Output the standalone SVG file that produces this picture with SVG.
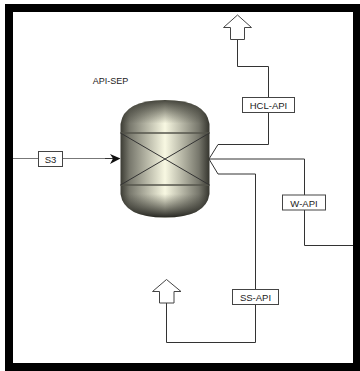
<svg xmlns="http://www.w3.org/2000/svg" width="360" height="371" viewBox="0 0 360 371">
<style>
.t{font-family:"Liberation Sans",Arial,sans-serif;font-size:9.5px;fill:#222;text-anchor:middle}
.b{fill:#fff;stroke:#444;stroke-width:1}
.c{fill:none;stroke:#333;stroke-width:1}
.p{fill:#fff;stroke:#444;stroke-width:1}
</style>
<defs>
<linearGradient id="h" x1="0" x2="1" y1="0" y2="0">
<stop offset="0" stop-color="#3c3c34"/><stop offset=".1" stop-color="#77776c"/><stop offset=".5" stop-color="#f8f8e2"/><stop offset=".88" stop-color="#77776c"/><stop offset="1" stop-color="#35352e"/>
</linearGradient>
<linearGradient id="v" x1="0" x2="0" y1="0" y2="1">
<stop offset="0" stop-color="#33332c" stop-opacity=".9"/><stop offset=".2" stop-color="#33332c" stop-opacity="0"/><stop offset=".8" stop-color="#33332c" stop-opacity="0"/><stop offset="1" stop-color="#1c1c18" stop-opacity=".95"/>
</linearGradient>
</defs>
<g id="frame"><path fill="#000" fill-rule="evenodd" d="M5 4H360V371H5ZM13 12V363H353V12Z"/></g>
<g id="connectors">
<path d="M13 158.500H113" fill="none" stroke="#777" stroke-width="1"/>
<path d="M105 158.500H114" class="c"/>
<path d="M110 154L120.500 158.500L110 164L113 158.500Z" fill="#111"/>
<path class="c" d="M209 159L218 144.500H268.500V66.500H237.500V39"/>
<path class="c" d="M209 159H304.500V245.500H353"/>
<path class="c" d="M209 159L218 174H255.500V342.500H166.500V303"/>
</g>
<g id="API-SEP">
<text x="110.500" y="84" class="t" style="font-size:9px">API-SEP</text>
<path id="shell" d="M120.500 124Q124 100 165 100Q206 100 209.500 124V194Q206 217.500 165 217.500Q124 217.500 120.500 194Z" fill="url(#h)"/>
<path d="M120.500 124Q124 100 165 100Q206 100 209.500 124V194Q206 217.500 165 217.500Q124 217.500 120.500 194Z" fill="url(#v)"/>
<path d="M120.500 133H209.500M120.500 185H209.500" stroke="#55554c" stroke-width="1.500" fill="none"/>
<path d="M120.500 133L209.500 185M120.500 185L209.500 133" stroke="#333" stroke-width="1" fill="none"/>
</g>
<g id="S3"><rect class="b" x="38.500" y="151.500" width="24" height="15"/><text class="t" x="50.500" y="162.500">S3</text></g>
<g id="HCL-API"><rect class="b" x="242.500" y="97.500" width="52" height="15"/><text class="t" x="268.500" y="109">HCL-API</text></g>
<g id="W-API"><rect class="b" x="282.500" y="195" width="43" height="15"/><text class="t" x="304" y="206.500">W-API</text></g>
<g id="SS-API"><rect class="b" x="232.500" y="289.500" width="46" height="15"/><text class="t" x="255.500" y="301">SS-API</text></g>
<g id="out-top"><path class="p" d="M237.500 15L251.500 27.500H244.500V39.500H230.500V27.500H223.500Z"/></g>
<g id="out-bottom"><path class="p" d="M166.500 279.500L181 291.500H174V303H159.500V291.500H152.500Z"/></g>
</svg>
